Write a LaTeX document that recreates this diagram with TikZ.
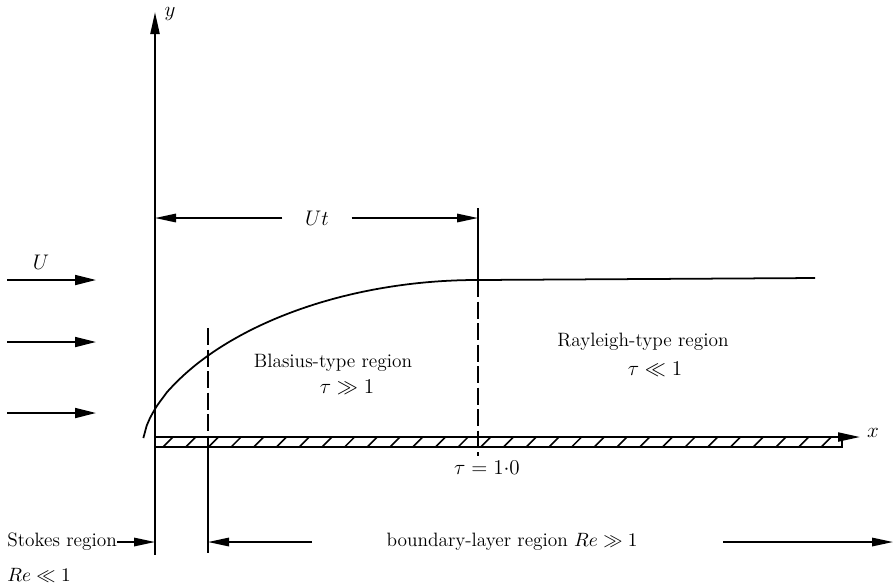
\documentclass[tikz,border=0pt]{standalone}
\usepackage{amsmath,amssymb}
\usetikzlibrary{arrows.meta,positioning,calc}
\tikzset{
  axis/.style={line width=1.2pt, -{Stealth[length=4.4mm, width=1.8mm, inset=0pt]}},
  flow/.style={line width=1pt, -{Stealth[length=4.2mm, width=2mm, inset=0pt]}},
  dimline/.style={line width=0.9pt, -{Stealth[length=4.2mm, width=1.7mm, inset=0pt]}},
  divide/.style={line width=0.9pt, dash pattern=on 3.4mm off 0.9mm},
  wall/.style={line width=1pt},
  hatch/.style={line width=0.9pt},
  lbl/.style={font=\fontsize{11}{13}\selectfont, inner sep=0pt},
  sym/.style={font=\fontsize{12}{14}\selectfont, inner sep=0pt},
}
\begin{document}
\begin{tikzpicture}[x=0.2mm, y=-0.2mm]
  \useasboundingbox (0,0) rectangle (895,586);
  % plate and axes
  \coordinate (O) at (155,437);
  \coordinate (ytip) at (155,12);
  \coordinate (xtip) at (860,437);
  \coordinate (pend) at (842,447);
  \draw[wall] (O) rectangle (pend);
  \foreach \i in {0,...,29} {
    \draw[hatch] ({163+22.7*\i},447) -- ++(10,-10);}
  \draw[axis] (O) -- (ytip);
  \draw[axis] (O) -- (xtip);
  \node[sym] (ylab) at (170,14) {$y$};
  \node[sym] (xlab) at (873,433) {$x$};
  % free stream
  \foreach \yy/\nm in {280/ua, 342/ub, 413/uc} {
    \coordinate (\nm s) at (7,\yy);
    \coordinate (\nm e) at (96,\yy);
    \draw[flow] (\nm s) -- (\nm e);}
  \node[sym] (Ulab) at (41,262) {$U$};
  % edge of the layer
  \draw[wall] plot[domain=0.001:1, samples=100]
    ({143+335*\x},{442-162*(1-(1-\x)^2)^0.6}) -- (815,278);
  % region boundaries
  \coordinate (b1top) at (208,328);
  \coordinate (b1wall) at (208,447);
  \coordinate (b1bot) at (208,553);
  \coordinate (swall) at (155,447);
  \coordinate (sbot) at (155,555);
  \draw[divide] (b1top) -- (b1wall);
  \draw[wall] (b1wall) -- (b1bot);
  \draw[wall] (swall) -- (sbot);
  \coordinate (ttop) at (478,208);
  \coordinate (tmid) at (478,280);
  \coordinate (tbot) at (478,456);
  \draw[wall] (ttop) -- (tmid);
  \draw[divide] (tmid) -- (tbot);
  % distance travelled
  \node[sym, inner xsep=4.5mm] (Ut) at (317,218) {$Ut$};
  \draw[dimline] (Ut.west) -- (Ut.west -| O);
  \draw[dimline] (Ut.east) -- (Ut.east -| ttop);
  % region labels
  \node[lbl] (blasius) at (333,363) {Blasius-type region};
  \node[sym] (tbig) at (347,387) {$\tau \gg 1$};
  \node[lbl] (rayleigh) at (643,342) {Rayleigh-type region};
  \node[sym] (tsmall) at (655,369) {$\tau \ll 1$};
  \node[sym] (tone) at (487,468) {$\tau = 1{\cdot}0$};
  % regions along the plate
  \node[lbl, anchor=west] (stokes) at (7,542) {Stokes region};
  \node[lbl, anchor=west] (restokes) at (7,575) {$Re \ll 1$};
  \draw[dimline] (stokes.east) -- (stokes.east -| sbot);
  \node[lbl] (blayer) at (512,542) {boundary-layer region $Re \gg 1$};
  \coordinate (blL) at (312,542);
  \coordinate (blR) at (723,542);
  \coordinate (blend) at (893,542);
  \draw[dimline] (blL) -- (blL -| b1bot);
  \draw[dimline] (blR) -- (blend);
\end{tikzpicture}
\end{document}
